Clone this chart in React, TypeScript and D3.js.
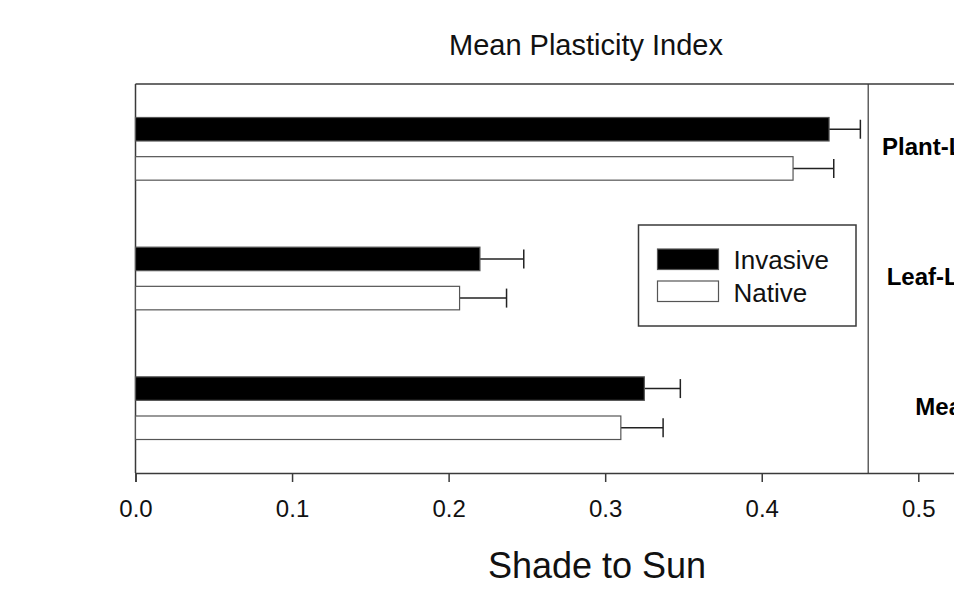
import React, { useEffect, useRef } from 'react';
import * as d3 from 'd3';

// Data
const categories = ['Plant-Level', 'Leaf-Level', 'Mean'];
const seriesNames = ['Invasive', 'Native'];
const invasiveValues = [0.443, 0.22, 0.325];
const invasiveErrors = [0.02, 0.028, 0.023];
const nativeValues = [0.42, 0.207, 0.31];
const nativeErrors = [0.026, 0.03, 0.027];
const xTicks = [0.0, 0.1, 0.2, 0.3, 0.4, 0.5];
const dividerValue = 0.468;

const FONT = '"Liberation Sans", Arial, sans-serif';

const App = () => {
  const svgRef = useRef<SVGSVGElement>(null);
  const width = 965;
  const height = 594;

  useEffect(() => {
    const svg = d3.select(svgRef.current);
    svg.selectAll('*').remove();

    const margin = { top: 84, left: 135.5, bottom: 121 };
    const plotBottom = height - margin.bottom;

    // the original figure is cropped on the right
    svg.append('defs').append('clipPath')
      .attr('id', 'crop')
      .append('rect')
      .attr('x', 0).attr('y', 0)
      .attr('width', 954).attr('height', height);

    const root = svg.append('g').attr('clip-path', 'url(#crop)');

    const x = d3.scaleLinear()
      .domain([0, 0.6])
      .range([margin.left, margin.left + 0.6 * 1565.6]);

    const y = d3.scaleBand()
      .domain(categories)
      .range([margin.top, plotBottom])
      .padding(0);

    const sub = d3.scaleBand()
      .domain(seriesNames)
      .range([0, y.bandwidth()])
      .paddingInner(0.4)
      .paddingOuter(0.855);

    const lineColor = '#3a3a3a';

    // frame: top + left
    root.append('line')
      .attr('x1', x(0)).attr('x2', x(0.6))
      .attr('y1', margin.top).attr('y2', margin.top)
      .attr('stroke', lineColor).attr('stroke-width', 1.5);
    root.append('line')
      .attr('x1', x(0)).attr('x2', x(0))
      .attr('y1', margin.top).attr('y2', plotBottom)
      .attr('stroke', lineColor).attr('stroke-width', 1.5);

    // divider line
    root.append('line')
      .attr('x1', x(dividerValue)).attr('x2', x(dividerValue))
      .attr('y1', margin.top).attr('y2', plotBottom)
      .attr('stroke', lineColor).attr('stroke-width', 1.2);

    const series = [
      { name: 'Invasive', values: invasiveValues, errors: invasiveErrors, fill: '#000' },
      { name: 'Native', values: nativeValues, errors: nativeErrors, fill: '#fff' }
    ];

    series.forEach(s => {
      const rows = categories.map((c, i) => ({ c, v: s.values[i], e: s.errors[i] }));
      const barY = (d: any) => (y(d.c) as number) + (sub(s.name) as number);
      const bw = sub.bandwidth();

      // error bars (positive side only)
      root.selectAll(null)
        .data(rows)
        .enter().append('line')
        .attr('x1', d => x(d.v)).attr('x2', d => x(d.v + d.e))
        .attr('y1', d => barY(d) + bw / 2).attr('y2', d => barY(d) + bw / 2)
        .attr('stroke', '#222').attr('stroke-width', 1.5);
      root.selectAll(null)
        .data(rows)
        .enter().append('line')
        .attr('x1', d => x(d.v + d.e)).attr('x2', d => x(d.v + d.e))
        .attr('y1', d => barY(d) + bw / 2 - 9.5).attr('y2', d => barY(d) + bw / 2 + 9.5)
        .attr('stroke', '#222').attr('stroke-width', 1.5);

      root.selectAll(null)
        .data(rows)
        .enter().append('rect')
        .attr('x', x(0))
        .attr('y', d => barY(d))
        .attr('width', d => x(d.v) - x(0))
        .attr('height', bw)
        .attr('fill', s.fill)
        .attr('stroke', '#555')
        .attr('stroke-width', 1.2);
    });

    // x axis
    const axis = root.append('g')
      .attr('transform', `translate(0,${plotBottom})`)
      .call(d3.axisBottom(x).tickValues(xTicks).tickFormat(d3.format('.1f')).tickSize(9).tickPadding(18));
    axis.select('.domain').attr('stroke', lineColor).attr('stroke-width', 1.5);
    axis.selectAll('.tick line').attr('stroke', lineColor).attr('stroke-width', 1.5);
    axis.selectAll('.tick text')
      .attr('fill', '#111')
      .style('font-family', FONT)
      .style('font-size', '24px');

    // category labels (cut by the crop, as in the original)
    root.selectAll(null)
      .data(categories)
      .enter().append('text')
      .attr('x', 946)
      .attr('y', d => (y(d) as number) + y.bandwidth() / 2 + 6.5)
      .attr('text-anchor', 'middle')
      .style('font-family', FONT)
      .style('font-size', '24px')
      .style('font-weight', 'bold')
      .attr('fill', '#000')
      .text(d => d);

    // legend
    const legend = root.append('g').attr('transform', 'translate(638.5,225)');
    legend.append('rect')
      .attr('width', 217.5).attr('height', 101)
      .attr('fill', '#fff').attr('stroke', lineColor).attr('stroke-width', 1.5);
    series.forEach((s, i) => {
      legend.append('rect')
        .attr('x', 19).attr('y', 24 + i * 32)
        .attr('width', 61).attr('height', 20.5)
        .attr('fill', s.fill).attr('stroke', '#555').attr('stroke-width', 1.2);
      legend.append('text')
        .attr('x', 95).attr('y', 43.5 + i * 33)
        .style('font-family', FONT)
        .style('font-size', '26px')
        .attr('fill', '#111')
        .text(s.name);
    });

    // titles
    svg.append('text')
      .attr('x', 586).attr('y', 55)
      .attr('text-anchor', 'middle')
      .style('font-family', FONT)
      .style('font-size', '29px')
      .attr('fill', '#111')
      .text('Mean Plasticity Index');

    svg.append('text')
      .attr('x', 597).attr('y', 578)
      .attr('text-anchor', 'middle')
      .style('font-family', FONT)
      .style('font-size', '36px')
      .attr('fill', '#111')
      .text('Shade to Sun');
  }, []);

  return (
    <svg
      ref={svgRef}
      width={width}
      height={height}
      style={{ position: 'absolute', left: 0, top: 0, background: '#fff' }}
    />
  );
};

export default App;
